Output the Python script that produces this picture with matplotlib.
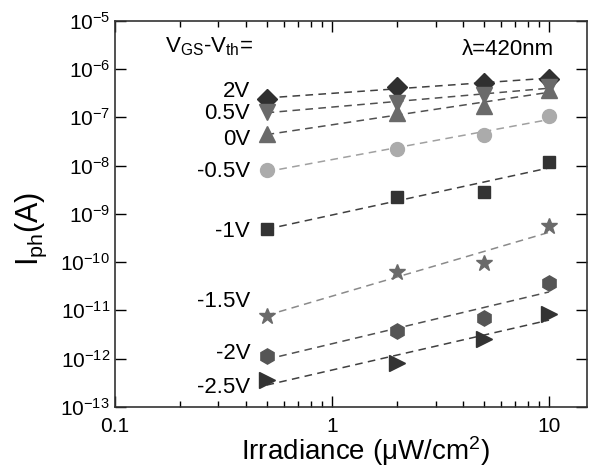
import numpy as np
import matplotlib
matplotlib.use("Agg")
import matplotlib.pyplot as plt
from matplotlib.ticker import LogLocator, NullFormatter, NullLocator

plt.rcParams['font.family'] = ['Liberation Sans', 'DejaVu Sans']
plt.rcParams['mathtext.fontset'] = 'custom'
plt.rcParams['mathtext.rm'] = 'Liberation Sans'
plt.rcParams['mathtext.it'] = 'Liberation Sans:italic'

# irradiance (uW/cm^2)
irradiance = [0.5, 2, 5, 10]

# photocurrent (A) for each VGS-Vth
labels = ['2V', '0.5V', '0V', '-0.5V', '-1V', '-1.5V', '-2V', '-2.5V']
i_2v = [2.4e-7, 4.3e-7, 5.1e-7, 6.3e-7]
i_05v = [1.3e-7, 2.0e-7, 2.9e-7, 4.3e-7]
i_0v = [4.4e-8, 1.2e-7, 1.7e-7, 3.7e-7]
i_m05v = [8.1e-9, 2.2e-8, 4.2e-8, 1.07e-7]
i_m1v = [4.9e-10, 2.2e-9, 2.8e-9, 1.2e-8]
i_m15v = [7.8e-12, 6.3e-11, 9.6e-11, 5.6e-10]
i_m2v = [1.15e-12, 3.8e-12, 7.0e-12, 3.7e-11]
i_m25v = [3.6e-13, 8.1e-13, 2.6e-12, 8.5e-12]
series = [i_2v, i_05v, i_0v, i_m05v, i_m1v, i_m15v, i_m2v, i_m25v]

# where the voltage labels sit (y, data units)
label_y = [3.5e-7, 1.2e-7, 3.4e-8, 7.4e-9, 4.3e-10, 1.5e-11, 1.26e-12, 2.5e-13]

markers = ['D', 'v', '^', 'o', 's', '*', 'h', '>']
mcolors = ['#303030', '#6a6a6a', '#6a6a6a', '#ababab', '#333333', '#6a6a6a', '#555555', '#333333']
lcolors = ['#404040', '#505050', '#505050', '#a0a0a0', '#404040', '#8a8a8a', '#505050', '#404040']
msizes = [10, 11, 11, 10, 8.5, 12, 11, 11]

fig = plt.figure(figsize=(5.95, 4.72), dpi=100)
ax = fig.add_axes([0.193, 0.138, 0.794, 0.818])

x = np.array(irradiance)
xf = np.array([0.5, 10])
for ys, m, mc, lc, ms in zip(series, markers, mcolors, lcolors, msizes):
    ys = np.array(ys)
    p = np.polyfit(np.log10(x), np.log10(ys), 1)
    ax.plot(xf, 10 ** np.polyval(p, np.log10(xf)), ls=(0, (5, 3.5)), color=lc, lw=1.1, zorder=1)
    ax.plot(x, ys, ls='none', marker=m, color=mc, ms=ms, mec=mc, zorder=2)

for lab, ly in zip(labels, label_y):
    ax.text(0.42, ly, lab, ha='right', va='center', fontsize=16)

ax.text(0.17, 2.9e-6, r'V$_{\rm GS}$-V$_{\rm th}$=', ha='left', va='center', fontsize=16)
ax.text(10.5, 2.5e-6, 'λ=420nm', ha='right', va='center', fontsize=16)

ax.set_xscale('log')
ax.set_yscale('log')
ax.set_xlim(0.1, 15)
ax.set_ylim(1e-13, 1e-5)
ax.set_xticks([0.1, 1, 10])
ax.set_xticklabels(['0.1', '1', '10'])
ax.xaxis.set_minor_locator(LogLocator(base=10, subs=np.arange(2, 10)))
ax.xaxis.set_minor_formatter(NullFormatter())
ax.yaxis.set_major_locator(LogLocator(base=10, numticks=20))
ax.yaxis.set_minor_locator(NullLocator())

ax.tick_params(which='both', direction='in', top=True, right=True, labelsize=15)
ax.tick_params(axis='x', pad=7)
ax.tick_params(which='major', length=8, width=1)
ax.tick_params(which='minor', length=4, width=1)
for s in ax.spines.values():
    s.set_linewidth(1.2)
    s.set_color('#333333')

ax.set_xlabel('Irradiance (μW/cm$^2$)', fontsize=20)
ax.xaxis.set_label_coords(0.53, -0.07)
ax.set_ylabel(r'I$_{\rm ph}$(A)', fontsize=22)
ax.yaxis.set_label_coords(-0.14, 0.46)

fig.savefig('out.png', dpi=100)
